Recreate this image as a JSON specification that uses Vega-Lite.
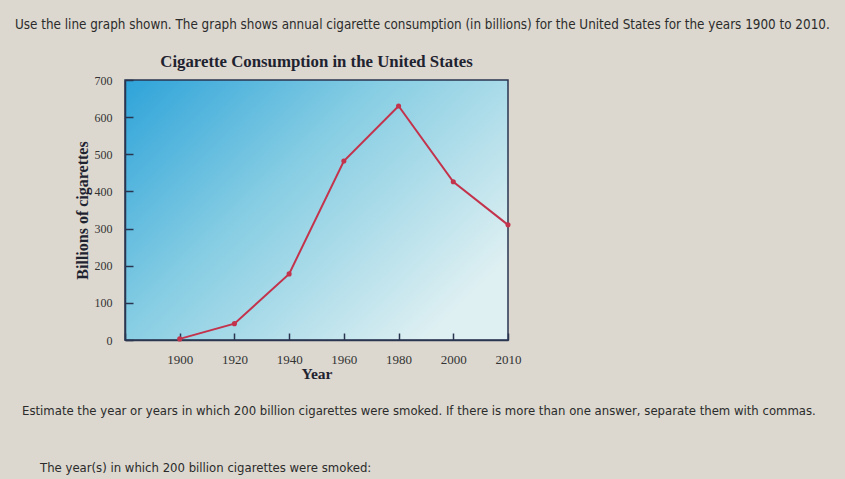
{
  "$schema": "https://vega.github.io/schema/vega-lite/v6.json",
  "background": "#dcd8cf",
  "padding": {"left": 15, "top": 18, "right": 40, "bottom": 20},
  "title": {
    "text": "Use the line graph shown. The graph shows annual cigarette consumption (in billions) for the United States for the years 1900 to 2010.",
    "anchor": "start",
    "font": "DejaVu Sans Condensed",
    "fontSize": 13.35,
    "fontWeight": "normal",
    "color": "#2b2b2b",
    "dx": -7,
    "offset": 22
  },
  "bounds": "flush",
  "center": true,
  "spacing": 71,
  "vconcat": [
    {
      "width": 383,
      "height": 260,
      "view": {
        "fill": {
          "gradient": "linear",
          "x1": 0, "y1": 0, "x2": 1, "y2": 0.7,
          "stops": [
            {"offset": 0, "color": "#2ea3d9"},
            {"offset": 0.45, "color": "#86cde3"},
            {"offset": 1, "color": "#dff0f2"}
          ]
        },
        "stroke": "#2a3550",
        "strokeWidth": 1.5
      },
      "title": {
        "text": "Cigarette Consumption in the United States",
        "font": "Liberation Serif",
        "fontSize": 16.8,
        "fontWeight": "bold",
        "color": "#1f2330",
        "offset": 3
      },
      "data": {
        "values": [
          {"year": "1900", "value": 3},
          {"year": "1920", "value": 44},
          {"year": "1940", "value": 178},
          {"year": "1960", "value": 482},
          {"year": "1980", "value": 630},
          {"year": "2000", "value": 426},
          {"year": "2010", "value": 310}
        ]
      },
      "mark": {
        "type": "line",
        "color": "#c3334c",
        "strokeWidth": 2,
        "point": {"filled": true, "size": 26, "color": "#c3334c"}
      },
      "encoding": {
        "x": {
          "field": "year",
          "type": "ordinal",
          "scale": {"type": "point", "domain": ["", "1900", "1920", "1940", "1960", "1980", "2000", "2010"], "padding": 0},
          "axis": {
            "title": "Year",
            "titleFont": "Liberation Serif",
            "titleFontSize": 15.5,
            "titleFontWeight": "bold",
            "titleColor": "#1f2330",
            "titlePadding": 0,
            "labelAngle": 0,
            "labelFont": "Liberation Serif",
            "labelFontSize": 13,
            "labelColor": "#333333",
            "labelPadding": 20,
            "domainColor": "#2a3550",
            "domainWidth": 1.5,
            "tickColor": "#2a3550",
            "tickWidth": 1.5,
            "tickSize": -7
          }
        },
        "y": {
          "field": "value",
          "type": "quantitative",
          "scale": {"domain": [0, 700], "nice": false},
          "axis": {
            "title": "Billions of cigarettes",
            "titleFont": "Liberation Serif",
            "titleFontSize": 16,
            "titleFontWeight": "bold",
            "titleColor": "#1f2330",
            "titlePadding": 4,
            "values": [0, 100, 200, 300, 400, 500, 600, 700],
            "labelFont": "Liberation Serif",
            "labelFontSize": 12,
            "labelColor": "#333333",
            "labelPadding": 21,
            "grid": false,
            "domainColor": "#2a3550",
            "domainWidth": 1.5,
            "tickColor": "#2a3550",
            "tickWidth": 1.5,
            "tickSize": -8
          }
        }
      }
    },
    {
      "width": 589,
      "height": 57,
      "data": {
        "values": [
          {"row": "1", "text": "Estimate the year or years in which 200 billion cigarettes were smoked. If there is more than one answer, separate them with commas."},
          {"row": "2", "text": "The year(s) in which 200 billion cigarettes were smoked:"}
        ]
      },
      "encoding": {
        "y": {"field": "row", "type": "ordinal", "scale": {"type": "point", "padding": 0}, "axis": null},
        "text": {"field": "text"},
        "x": {"value": 0}
      },
      "layer": [
        {
          "transform": [{"filter": "datum.row == '1'"}],
          "mark": {"type": "text", "align": "left", "baseline": "middle", "font": "DejaVu Sans Condensed", "fontSize": 13, "color": "#2b2b2b"}
        },
        {
          "transform": [{"filter": "datum.row == '2'"}],
          "mark": {"type": "text", "align": "left", "baseline": "middle", "dx": 18, "font": "DejaVu Sans Condensed", "fontSize": 13, "color": "#2b2b2b"}
        }
      ]
    }
  ],
  "config": {"view": {"stroke": null}}
}
